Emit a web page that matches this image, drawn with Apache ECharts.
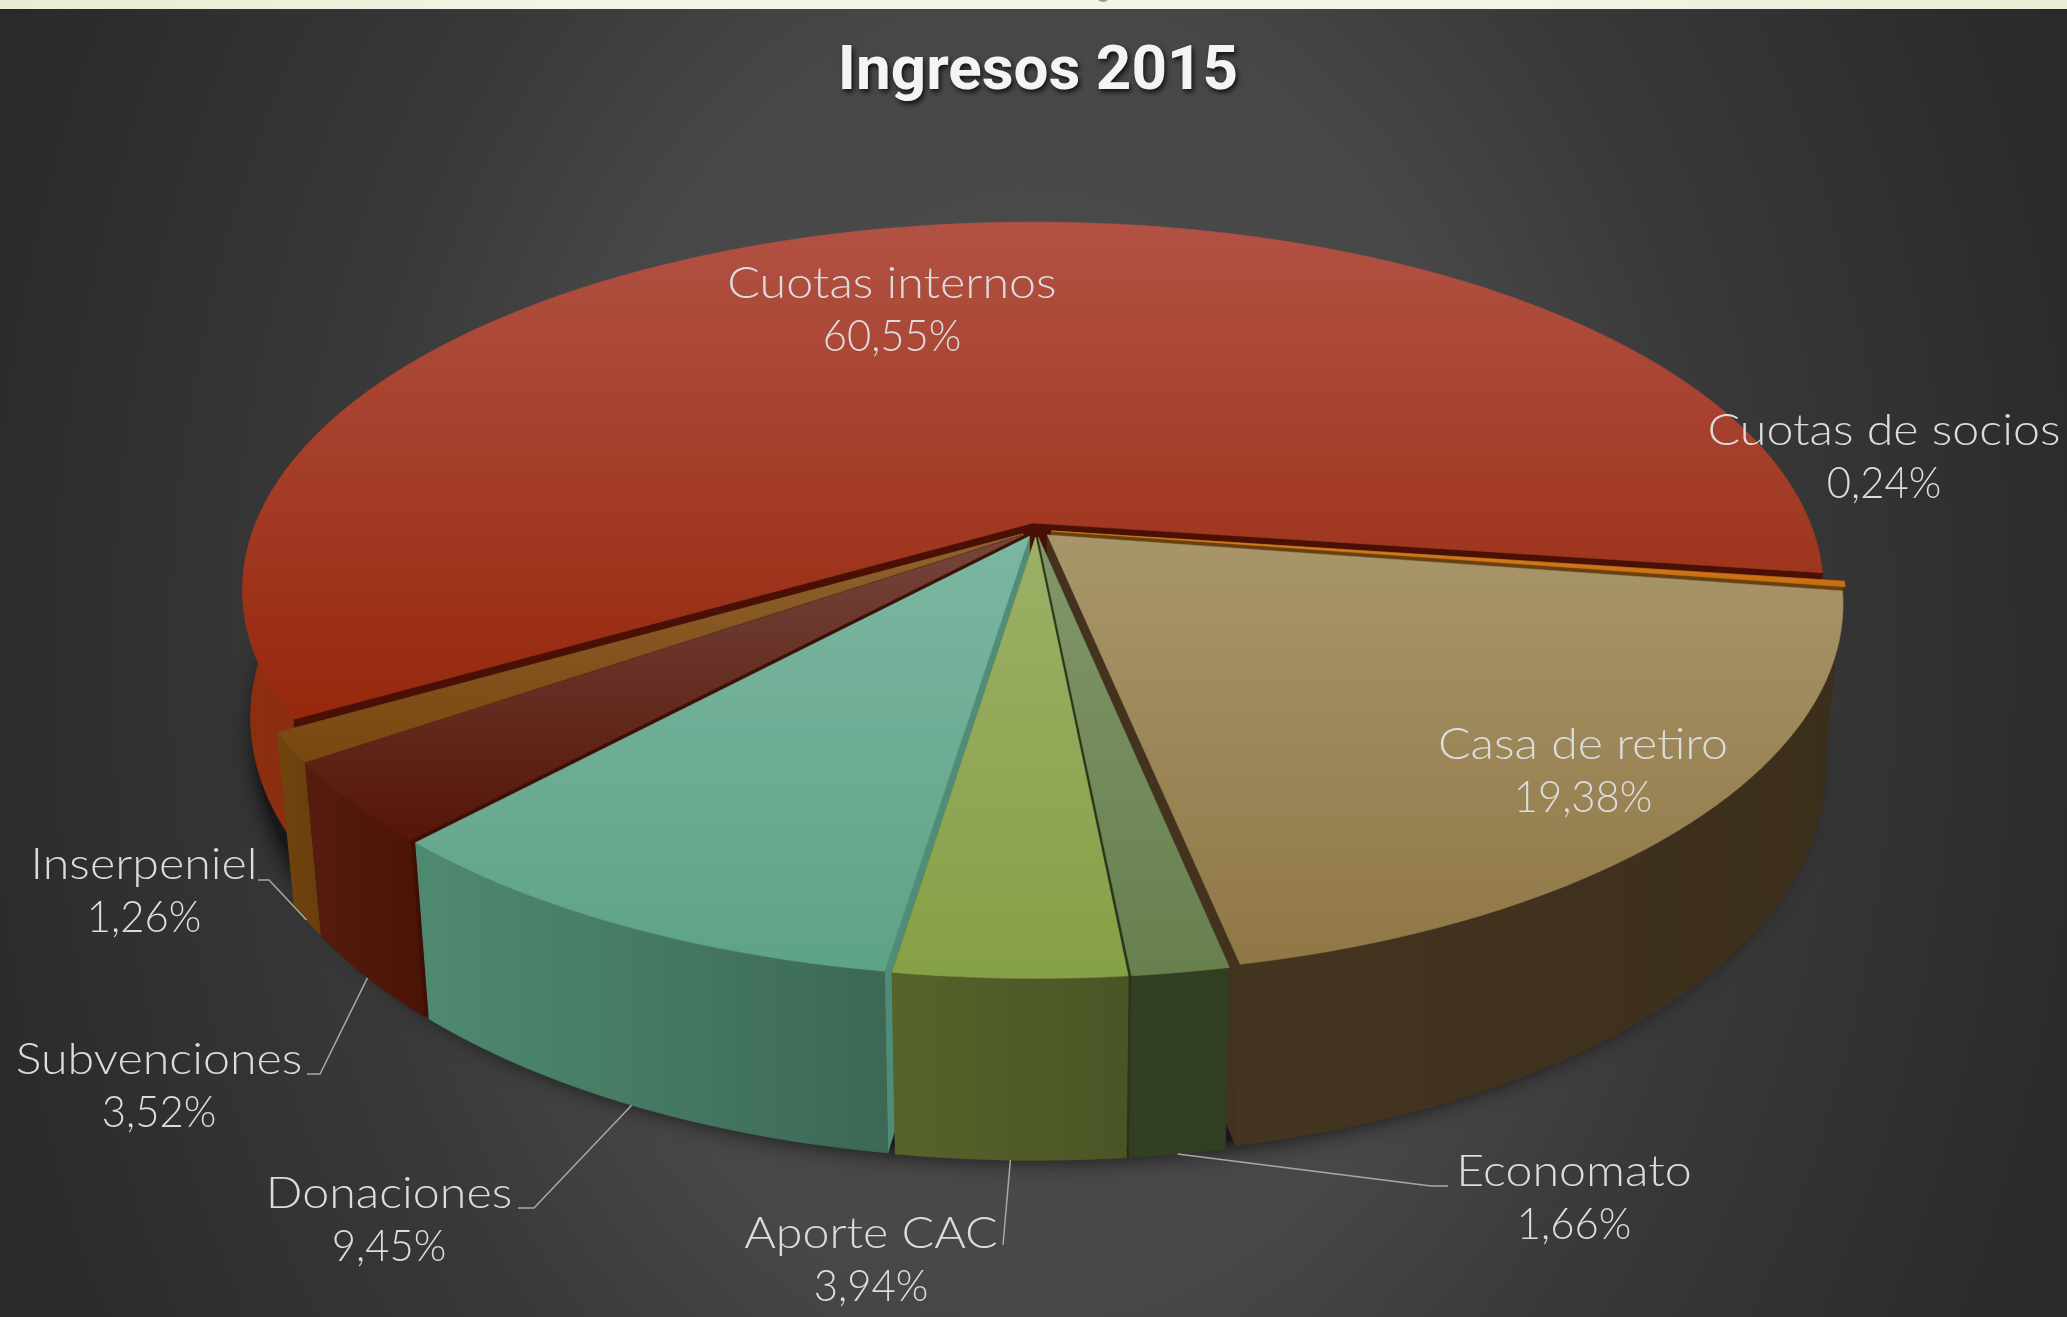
<!DOCTYPE html>
<html><head><meta charset="utf-8">
<script src="https://cdn.jsdelivr.net/npm/echarts@6/dist/echarts.min.js"></script>
<style>
html,body{margin:0;padding:0;width:2067px;height:1317px;overflow:hidden;
background:radial-gradient(ellipse 1100px 1500px at 1033px 660px,#4e4e4e 0%,#474747 44%,#393939 63%,#2c2c2c 94%,#2a2a2a 103%);}
#c{width:2067px;height:1317px;}
</style></head><body><div id="c"></div>
<script>
const chartTitle = 'Ingresos 2015';
const categories = ['Casa de retiro','Economato','Aporte CAC','Donaciones','Subvenciones','Inserpeniel','Cuotas internos','Cuotas de socios'];
const values = [19.38,1.66,3.94,9.45,3.52,1.26,60.55,0.24];

const topFar   = ['#A8966A','#82966A','#9CB066','#7CB6A2','#75453C','#8F6230','#B25244','#D8801E'];
const topNear  = ['#907746','#67804E','#86A046','#5EA386','#561608','#78470F','#96280C','#C86E12'];
const wallA    = ['#443520','#333F23','#566329','#4F8A70','#561C10','#70440E','#8C2E10','#3F3220'];
const wallB    = ['#3B2E1B','#323E22','#4A5526','#3C6855','#4A1405','#6A3F0C','#8A2C0E','#3F3220'];
const edgeCol  = ['#43331E','#2A351B','#4A5526','#4F8D78','#3F0F05','#6A4010','#4A1005','#6A400E'];
const wallDrop = [164,164,164,164,164,164,125,20];
const wallScale= [0.978,0.978,0.978,0.978,0.978,0.978,0.99,0.995];
const leftWallOnly = [false,false,false,false,false,false,true,false];
const drawOrder = [6,7,5,4,0,3,1,2];

// label block centres and leader-line anchors, in page pixels
const labelPos = [[1583,771],[1574,1198],[871,1260],[389,1220],[159,1086],[144,891],[892,310],[1884,457]];
const leaderStart = [null,[[1448,1186],[1431,1186]],[[1003,1245]],[[518,1208],[534,1208]],[[307,1074],[320,1074]],[[258,880],[269,880]],null,null];

// projection of the pie's disc
const P = {cx:1036, cy:530, rx:780, ry:358, k:0.182, explode:0.02, startDeg:8.7, sy:1.04};
const total = values.reduce((a,b)=>a+b,0);
const rad = d => d*Math.PI/180;
function proj(u,v){const w=1-P.k*v;return [P.cx+P.rx*u/w,P.cy+P.ry*v/w];}
function lowerBy(p,scale,drop){return [P.cx+(p[0]-P.cx)*scale,P.cy+(p[1]-P.cy)*P.sy+drop];}
function lower(p,i){return lowerBy(p,wallScale[i],wallDrop[i]);}
function span(i){
  let a=P.startDeg;
  for(let j=0;j<i;j++)a+=values[j]/total*360;
  return [a,a+values[i]/total*360];
}
function rim(i,deg,r){
  const s=span(i),m=rad((s[0]+s[1])/2),e=P.explode;
  const ou=e*Math.cos(m),ov=e*Math.sin(m);
  return proj(ou+(r==null?1:r)*Math.cos(rad(deg)),ov+(r==null?1:r)*Math.sin(rad(deg)));
}
function grad(horizontal,c0,c1){
  return new echarts.graphic.LinearGradient(0,0,horizontal?1:0,horizontal?0:1,[{offset:0,color:c0},{offset:1,color:c1}]);
}
function poly(points,fill,stroke){
  return {type:'polygon',silent:true,shape:{points:points},
    style:{fill:fill,stroke:stroke||fill,lineWidth:0.6}};
}
function renderSlice(params,api){
  const i=api.value(0);
  const s=span(i),children=[];
  const apex=rim(i,0,0);
  const pts=[];
  const n=Math.max(2,Math.ceil((s[1]-s[0])/1.5));
  for(let t=0;t<=n;t++)pts.push(s[0]+(s[1]-s[0])*t/n);
  const C0=rim(i,s[0]),C1=rim(i,s[1]);
  children.push(poly([apex,C0,lower(C0,i),lower(apex,i)],edgeCol[i]));
  children.push(poly([apex,C1,lower(C1,i),lower(apex,i)],edgeCol[i]));
  let run=[];
  const flush=()=>{
    if(run.length>1){
      const top=run.map(d=>rim(i,d));
      const bottom=top.map(p=>lower(p,i)).reverse();
      children.push(poly(top.concat(bottom),grad(true,wallA[i],wallB[i])));
    }
    run=[];
  };
  pts.forEach(d=>{
    const shown=Math.sin(rad(d))>-0.5 && !(leftWallOnly[i] && Math.cos(rad(d))>0);
    if(shown) run.push(d); else flush();
  });
  flush();
  children.push(poly([apex].concat(pts.map(d=>rim(i,d))),grad(false,topFar[i],topNear[i])));
  return {type:'group',children:children};
}
function renderShadow(){
  const pts=[];
  const dropA=wallDrop[0],dropB=wallDrop[6],scA=wallScale[0],scB=wallScale[6];
  for(let d=0;d<360;d+=3){
    let t=0;                      // 0 = front of the pie, 1 = raised back-left part
    if(d>=130&&d<=180)t=(d-130)/50; else if(d>180&&d<300)t=1; else if(d>=300)t=(360-d)/60;
    pts.push(lowerBy(proj(0.995*Math.cos(rad(d)),0.012+0.995*Math.sin(rad(d))),scA+(scB-scA)*t,dropA+(dropB-dropA)*t));
  }
  return {type:'polygon',silent:true,shape:{points:pts},
    style:{fill:'#181818',shadowColor:'rgba(0,0,0,0.85)',shadowBlur:24,shadowOffsetY:5}};
}
function pct(v){return v.toFixed(2).replace('.',',')+'%';}
function lineText(str,x,y,scale){
  return {type:'text',silent:true,x:x,y:y,scaleX:scale,style:{
    text:str,x:0,y:0,align:'center',verticalAlign:'middle',
    fontFamily:'Lato',fontWeight:300,fontSize:44,fill:'#dcdcdc'}};
}
function renderLabel(params,api){
  const i=api.value(0),children=[];
  if(leaderStart[i]){
    const s=span(i);
    const end=lower(rim(i,(s[0]+s[1])/2),i);
    children.push({type:'polyline',silent:true,shape:{points:leaderStart[i].concat([end])},
      style:{fill:null,stroke:'#a8a8a8',lineWidth:1.5}});
  }
  children.push(lineText(categories[i],labelPos[i][0],labelPos[i][1]-26,1.1));
  children.push(lineText(pct(values[i]),labelPos[i][0],labelPos[i][1]+27,0.95));
  return {type:'group',children:children};
}
const chart=echarts.init(document.getElementById('c'),null,{renderer:'canvas'});
chart.setOption({
  backgroundColor:'transparent',
  animation:false,
  title:{text:chartTitle,left:1033,top:37,textAlign:'center',
    textStyle:{color:'#f4f4f4',fontFamily:'Roboto',fontWeight:'bold',fontSize:62,
      textShadowColor:'rgba(0,0,0,0.75)',textShadowBlur:5,textShadowOffsetX:2,textShadowOffsetY:3}},
  graphic:[
    {type:'rect',silent:true,shape:{x:0,y:0,width:2067,height:9},
      style:{fill:new echarts.graphic.LinearGradient(0,0,1,0,[{offset:0,color:'#e6edd2'},{offset:0.3,color:'#f2f6e6'},{offset:0.7,color:'#f2f6e6'},{offset:1,color:'#e8eed6'}])}},
    {type:'circle',silent:true,shape:{cx:1103,cy:-5,r:7},style:{fill:'#999'}}
  ],
  series:[
    {type:'custom',coordinateSystem:'none',z:1,renderItem:renderShadow,data:[[0]],silent:true},
    {type:'custom',coordinateSystem:'none',z:2,renderItem:renderSlice,silent:true,
      data:drawOrder.map(i=>[i,values[i]]),encode:{value:1}},
    {type:'custom',coordinateSystem:'none',z:3,renderItem:renderLabel,silent:true,
      data:values.map((v,i)=>[i,v]),encode:{value:1}}
  ]
});
</script></body></html>
